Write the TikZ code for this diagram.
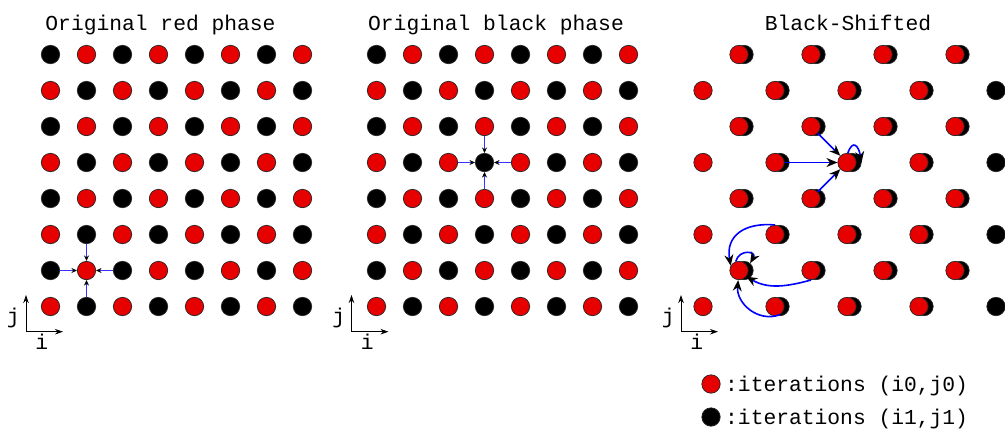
\documentclass[tikz,border=0pt]{standalone}
\usepackage{fontspec}
\setmonofont{Liberation Mono}
\usetikzlibrary{arrows.meta,positioning}
\definecolor{phasered}{HTML}{E60000}
\definecolor{linkblue}{HTML}{3535FF}
\definecolor{shiftblue}{HTML}{0000FF}

\begin{document}
\begin{tikzpicture}[x=1pt, y=-1pt,
    dot/.style={circle, draw=black!85, line width=0.7pt, minimum size=18.4pt, inner sep=0pt},
    reddot/.style={dot, fill=phasered},
    blackdot/.style={dot, fill=black},
    txt/.style={font=\ttfamily\fontsize{21.3pt}{25pt}\selectfont, inner sep=0pt},
    heading/.style={txt, anchor=base},
    dep/.style={-{Stealth[length=5.5pt, width=5pt, black]}, linkblue, line width=1pt},
    shiftdep/.style={-{Stealth[length=11pt, width=9pt, black]}, shiftblue, line width=1.6pt},
    axis/.style={-{Stealth[length=8pt, width=5.5pt]}, line width=0.9pt},
]
    \useasboundingbox (0,0) rectangle (1005,432);

    % titles
    \node[heading] (t1) at (160.5,30) {Original red phase};
    \node[heading] (t2) at (496,30) {Original black phase};
    \node[heading] (t3) at (848,30) {Black-Shifted};

    % original red / black phase grids
    \foreach \p/\ox in {a/50.5, b/376.5} {
        \foreach \i in {0,...,7} {
            \foreach \j in {0,...,7} {
                \pgfmathtruncatemacro{\s}{mod(\i+\j,2)}
                \ifnum\s=0
                    \node[reddot] (\p-\i-\j) at (\ox+36*\i, 306.5-36*\j) {};
                \else
                    \node[blackdot] (\p-\i-\j) at (\ox+36*\i, 306.5-36*\j) {};
                \fi
            }
        }
    }

    % black-shifted grid: black points moved one column right
    \foreach \i in {0,...,7} {
        \foreach \j in {0,...,7} {
            \pgfmathtruncatemacro{\s}{mod(\i+\j,2)}
            \pgfmathtruncatemacro{\d}{\i+1}
            \ifnum\s=1
                \node[blackdot] (k-\d-\j) at (744+36*\i, 306.5-36*\j) {};
            \fi
        }
    }
    \foreach \i in {0,...,7} {
        \foreach \j in {0,...,7} {
            \pgfmathtruncatemacro{\s}{mod(\i+\j,2)}
            \ifnum\s=0
                \node[reddot] (c-\i-\j) at (703+36*\i, 306.5-36*\j) {};
            \fi
        }
    }

    % stencil dependencies
    \foreach \n in {a-0-1, a-2-1, a-1-2, a-1-0}
        \draw[dep] (\n) -- (a-1-1);
    \foreach \n in {b-2-4, b-4-4, b-3-5, b-3-3}
        \draw[dep] (\n) -- (b-3-4);

    \foreach \n in {c-3-5, c-2-4, c-3-3}
        \draw[shiftdep] (\n) -- (c-4-4);
    \draw[shiftdep] (c-4-4.85) .. controls +(70:15pt) and +(100:17pt) .. (k-4-4.east);

    \draw[shiftdep] (c-2-2.north) to[out=175, in=100, looseness=1.3] (c-1-1.150);
    \draw[shiftdep] (c-3-1.south) to[out=195, in=-30] (c-1-1.-40);
    \draw[shiftdep] (c-2-0.-60) to[out=200, in=-95, looseness=1.1] (c-1-1.-95);
    \draw[shiftdep] (c-1-1.110) to[out=75, in=60, looseness=2.4] (k-1-1.50);

    % i/j axes
    \foreach \p/\ox in {1/26, 2/351.5, 3/681} {
        \coordinate (o\p) at (\ox, 331.7);
        \coordinate (oj\p) at (\ox, 295);
        \coordinate (oi\p) at (\ox+37, 331.7);
        \draw[axis] (o\p) -- (oj\p);
        \draw[axis] (o\p) -- (oi\p);
        \node[txt] (j\p) at (\ox-12.7, 318) {j};
        \node[txt] (i\p) at (\ox+15.7, 342) {i};
    }

    % legend
    \node[reddot] (lr) at (711,384) {};
    \node[blackdot] (lk) at (711,417) {};
    \node[txt, anchor=base west] (lrt) at (725,391) {:iterations (i0,j0)};
    \node[txt, anchor=base west] (lkt) at (725,424) {:iterations (i1,j1)};
\end{tikzpicture}
\end{document}
